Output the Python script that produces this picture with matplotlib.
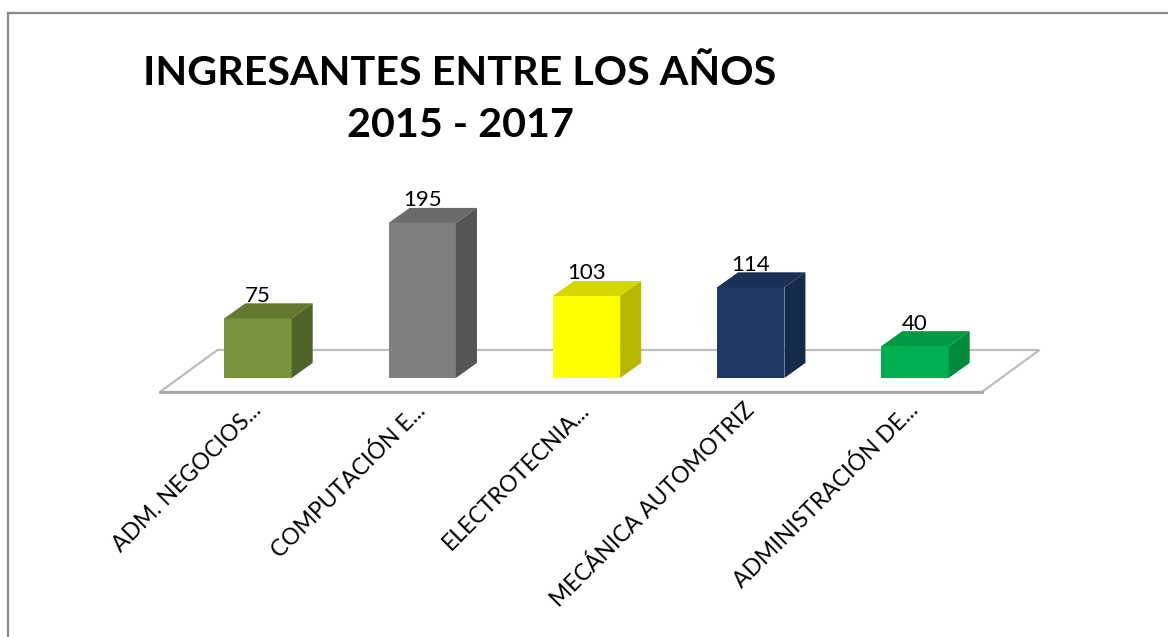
import matplotlib
matplotlib.use("Agg")
import matplotlib.pyplot as plt
from matplotlib.patches import Polygon
from matplotlib.lines import Line2D

plt.rcParams['font.family'] = ['Lato', 'DejaVu Sans']

# data
carreras = ['ADM. NEGOCIOS...', 'COMPUTACIÓN E...', 'ELECTROTECNIA...',
            'MECÁNICA AUTOMOTRIZ', 'ADMINISTRACIÓN DE...']
ingresantes = [75, 195, 103, 114, 40]
col_front = ['#77933c', '#7f7f7f', '#ffff00', '#1f3864', '#00b050']
col_top = ['#62792f', '#6b6b6b', '#d6d600', '#1a3056', '#009a45']
col_side = ['#4f6228', '#555555', '#b8b800', '#162a4c', '#008a3c']
titulo = 'INGRESANTES ENTRE LOS AÑOS\n2015 - 2017'

W, H = 1168, 637
fig = plt.figure(figsize=(W / 100, H / 100), dpi=100)

# axes region in pixels (left, top, right, bottom)
L, T, R, B = 150, 180, 1050, 400
ax = fig.add_axes([L / W, (H - B) / H, (R - L) / W, (B - T) / H])
ax.set_xlim(-0.6575, 4.822)
ax.set_ylim(-27.7, 249)

bw = 0.41     # width of the front face
ddx = 0.128   # depth offset in x
ddy = 18.9    # depth offset in y

# floor plane
fx0, fx1 = -0.597, 4.408
fy0, fy1 = -17.6, 35.2
fdx = 0.35
floor = Polygon([(fx0, fy0), (fx1, fy0), (fx1 + fdx, fy1), (fx0 + fdx, fy1)],
                closed=True, facecolor='white', edgecolor='#bdbdbd', lw=1.6, zorder=1)
ax.add_patch(floor)
ax.plot([fx0, fx1], [fy0, fy0], color='#a6a6a6', lw=2, zorder=1.1)

for i, v in enumerate(ingresantes):
    x0, x1 = i - bw / 2, i + bw / 2
    front = Polygon([(x0, 0), (x1, 0), (x1, v), (x0, v)], closed=True,
                    facecolor=col_front[i], edgecolor='none', zorder=3)
    top = Polygon([(x0, v), (x1, v), (x1 + ddx, v + ddy), (x0 + ddx, v + ddy)],
                  closed=True, facecolor=col_top[i], edgecolor='none', zorder=3)
    side = Polygon([(x1, 0), (x1 + ddx, ddy), (x1 + ddx, v + ddy), (x1, v)],
                   closed=True, facecolor=col_side[i], edgecolor='none', zorder=3)
    for p in (front, top, side):
        ax.add_patch(p)
    ax.text(i, v + ddy - 3, str(v), ha='center', va='bottom', fontsize=16,
            color='black', zorder=4)

ax.set_xticks(range(len(carreras)))
ax.set_xticklabels(carreras, rotation=45, ha='right', va='center',
                   rotation_mode='anchor', fontsize=16.5)
ax.tick_params(axis='x', length=0, pad=5)
ax.set_yticks([])
for s in ax.spines.values():
    s.set_visible(False)
ax.patch.set_alpha(0)

fig.text(460 / W, 1 - 55 / H, titulo, ha='center', va='top', fontsize=29.7,
         fontweight='bold', linespacing=1.49)

# outer frame (left and top edges visible)
fig.add_artist(Line2D([8 / W, 8 / W], [0, 1 - 13 / H], color='#888888', lw=1.6,
                      transform=fig.transFigure))
fig.add_artist(Line2D([8 / W, 1], [1 - 13 / H, 1 - 13 / H], color='#888888', lw=1.6,
                      transform=fig.transFigure))

fig.savefig('out.png', dpi=100)
